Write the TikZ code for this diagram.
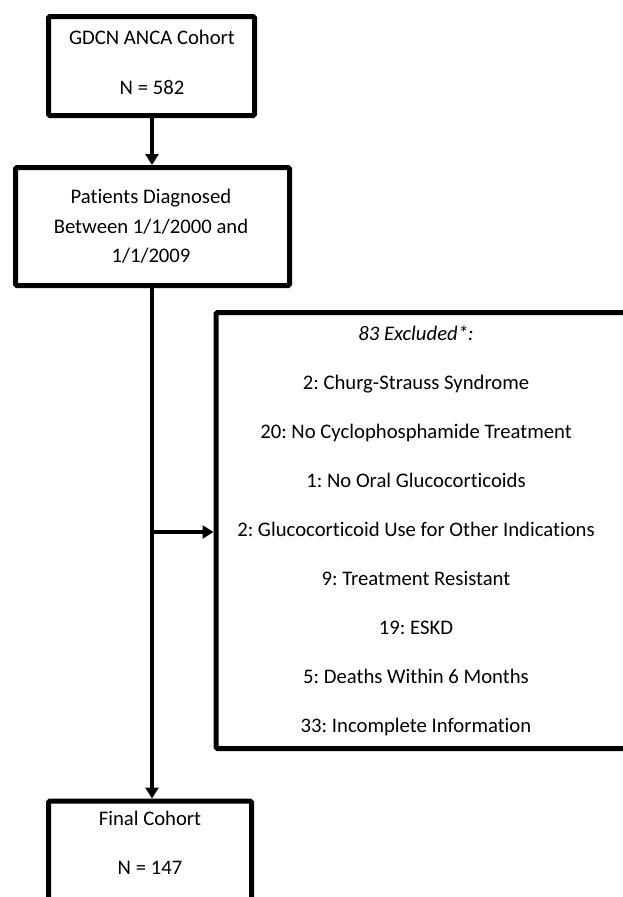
\documentclass[tikz,border=0pt]{standalone}
\usepackage{fontspec}
\setmainfont[Ligatures=NoCommon]{Carlito}
\usetikzlibrary{arrows.meta}
\frenchspacing
\begin{document}
\begin{tikzpicture}[x=1pt,y=-1pt,
 boxst/.style={draw,line width=5pt,rounded corners=1.5pt,inner sep=0pt},
 txt/.style={anchor=base,inner sep=0pt,font=\fontsize{20.7}{25}\selectfont},
 conn/.style={line width=4pt,-{Triangle[width=13pt,length=11pt]}}]
\useasboundingbox (0,0) rectangle (623,897);
\clip (0,0) rectangle (623,897);
% boxes
\node[boxst,minimum width=206pt,minimum height=99pt] (top) at (151.5,66) {};
\node[boxst,minimum width=274pt,minimum height=118pt] (pat) at (152.5,226.5) {};
\node[boxst,anchor=west,minimum width=500pt,minimum height=436pt] (excl) at (213.5,530.5) {};
\node[boxst,anchor=north,minimum width=203pt,minimum height=150pt] (fin) at (150,798.5) {};
% texts
\node[txt] (t1) at (152,44.5) {GDCN ANCA Cohort};
\node[txt] (t2) at (152,94.5) {N = 582};
\node[txt] (p1) at (151,203.5) {Patients Diagnosed};
\node[txt] (p2) at (151,233) {Between 1/1/2000 and};
\node[txt] (p3) at (151,262.5) {1/1/2009};
\node[txt] (e0) at (416,340.5) {\itshape 83 Excluded*:};
\node[txt] (e1) at (416,389.5) {2: Churg-Strauss Syndrome};
\node[txt] (e2) at (416,438.5) {20: No Cyclophosphamide Treatment};
\node[txt] (e3) at (416,487.5) {1: No Oral Glucocorticoids};
\node[txt] (e4) at (416,536) {2: Glucocorticoid Use for Other Indications};
\node[txt] (e5) at (416,585) {9: Treatment Resistant};
\node[txt] (e6) at (416,634) {19: ESKD};
\node[txt] (e7) at (416,683) {5: Deaths Within 6 Months};
\node[txt] (e8) at (416,732) {33: Incomplete Information};
\node[txt] (f1) at (150,825.5) {Final Cohort};
\node[txt] (f2) at (150,874.5) {N = 147};
% connectors
\coordinate (a1) at (152,0);
\draw[conn] (top.south -| a1) -- (pat.north -| a1);
\draw[conn] (pat.south -| a1) -- (fin.north -| a1);
\coordinate (br) at (152,532);
\draw[conn] (br) -- (br -| excl.west);
\end{tikzpicture}
\end{document}
